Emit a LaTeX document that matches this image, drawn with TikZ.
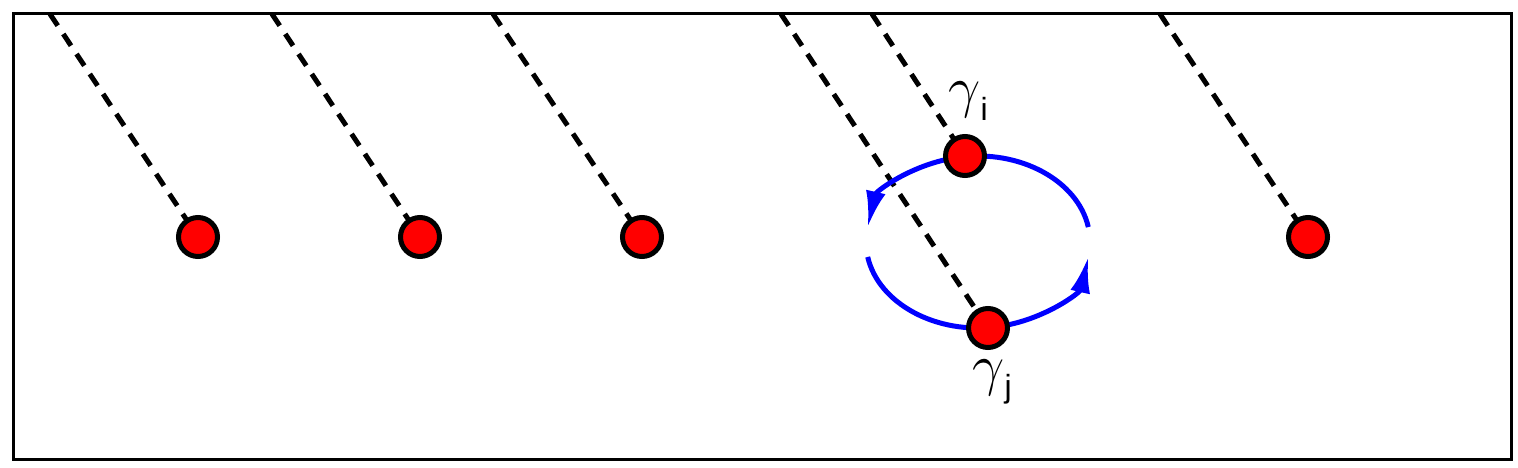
\documentclass[tikz,border=0pt]{standalone}
\usepackage{graphicx}
\usepackage{fontspec}
\setmainfont{Liberation Sans}
\usetikzlibrary{arrows.meta}
\newcommand{\biggam}{\scalebox{2.3}{$\gamma$}}
\begin{document}
\begin{tikzpicture}[x=1pt,y=-1pt,
  puncture/.style={circle,draw=black,fill=red,line width=5pt,minimum size=39pt,inner sep=0pt},
  fluxline/.style={black,line width=5pt,dash pattern=on 14pt off 10pt},
  looparc/.style={blue,line width=5pt,-{Latex[length=36pt,width=20pt]}},
  lbl/.style={font=\fontsize{32}{34}\selectfont,inner sep=0pt}]
\useasboundingbox (0,0) rectangle (1518,468);
\draw[line width=3pt] (13,14) rectangle (1511,459);
% puncture positions
\coordinate (t1) at (50,14);
\coordinate (t2) at (272,14);
\coordinate (t3) at (493,14);
\coordinate (t4) at (781,14);
\coordinate (t5) at (872,14);
\coordinate (t6) at (1160,14);
\path (198,237) coordinate (c1) (420,237) coordinate (c2) (642,237) coordinate (c3)
      (1308,237) coordinate (c6) (965,156) coordinate (ci) (988,328) coordinate (cj);
\draw[fluxline] (t1) -- (c1);
\draw[fluxline] (t2) -- (c2);
\draw[fluxline] (t3) -- (c3);
\draw[fluxline] (t4) -- (cj);
\draw[fluxline] (t5) -- (ci);
\draw[fluxline] (t6) -- (c6);
% loop
\coordinate (lc) at (978,242);
\draw[looparc] ([shift={(10:112pt and 86pt)}]lc) arc[start angle=-10,end angle=-170,x radius=112,y radius=86];
\draw[looparc] ([shift={(190:112pt and 86pt)}]lc) arc[start angle=-190,end angle=-350,x radius=112,y radius=86];
\node[puncture] (n1) at (c1) {};
\node[puncture] (n2) at (c2) {};
\node[puncture] (n3) at (c3) {};
\node[puncture] (n6) at (c6) {};
\node[puncture] (ni) at (ci) {};
\node[puncture] (nj) at (cj) {};
\node[lbl] (li) at (968,101) {\biggam\raisebox{-0.42em}{i}};
\node[lbl] (lj) at (992,382) {\biggam\raisebox{-0.42em}{j}};
\end{tikzpicture}
\end{document}
